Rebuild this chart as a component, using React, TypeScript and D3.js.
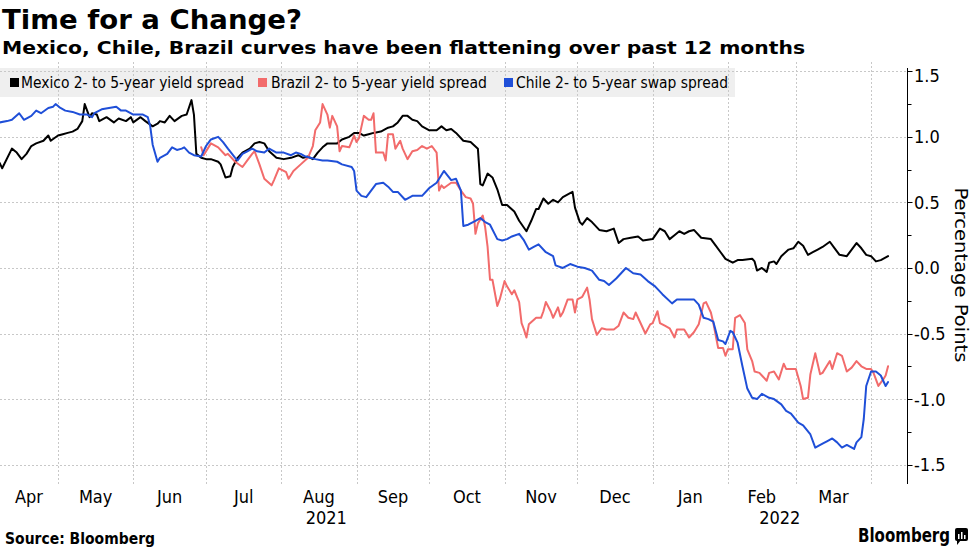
import React, { useEffect } from "react";
import * as d3 from "d3";

// ---------- text ----------
const titleText = "Time for a Change?";
const subtitleText = "Mexico, Chile, Brazil curves have been flattening over past 12 months";
const sourceText = "Source: Bloomberg";
const brandText = "Bloomberg";
const yAxisTitle = "Percentage Points";

const seriesNames = [
  "Mexico 2- to 5-year yield spread",
  "Brazil 2- to 5-year yield spread",
  "Chile 2- to 5-year swap spread",
];
const seriesColors = ["#000000", "#f26b6b", "#1f4fd8"];

const monthLabels = ["Apr", "May", "Jun", "Jul", "Aug", "Sep", "Oct", "Nov", "Dec", "Jan", "Feb", "Mar"];
const yearLabels = ["2021", "2022"];
const yTickValues = [1.5, 1.0, 0.5, 0.0, -0.5, -1.0, -1.5];
const yTickLabels = ["1.5", "1.0", "0.5", "0.0", "-0.5", "-1.0", "-1.5"];

// ---------- data: [days since 2021-04-01, percentage points] ----------
const mexico: [number, number][] = [
  [6, 0.8], [7, 0.76], [11, 0.91], [13, 0.88], [15, 0.83], [17, 0.87], [19, 0.93], [21, 0.95], [24, 0.97], [26, 1.01],
  [27, 0.97], [30, 1.01], [32, 1.02], [34, 1.03], [36, 1.04], [38, 1.06], [40, 1.12], [41, 1.25], [42, 1.2], [43, 1.15],
  [44, 1.18], [46, 1.17], [47, 1.12], [50, 1.15], [53, 1.11], [55, 1.14], [58, 1.12], [60, 1.15], [61, 1.11], [64, 1.15],
  [66, 1.12], [69, 1.08], [71, 1.1], [72, 1.12], [74, 1.11], [76, 1.16], [78, 1.12], [81, 1.16], [83, 1.17], [85, 1.28],
  [86, 1.17], [87, 0.87], [89, 0.84], [91, 0.83], [93, 0.83], [96, 0.81], [97, 0.79], [99, 0.69], [101, 0.7], [102, 0.77],
  [104, 0.84], [106, 0.88], [109, 0.91], [111, 0.95], [113, 0.96], [115, 0.95], [117, 0.89], [120, 0.84], [123, 0.83], [126, 0.84],
  [129, 0.86], [131, 0.84], [133, 0.85], [135, 0.83], [137, 0.88], [139, 0.92], [141, 0.95], [143, 0.95], [145, 0.95], [147, 0.98],
  [150, 1.0], [152, 1.03], [154, 1.03], [156, 1.01], [158, 1.02], [160, 1.03], [163, 1.04], [166, 1.07], [168, 1.08], [170, 1.11],
  [172, 1.16], [174, 1.16], [176, 1.13], [178, 1.12], [180, 1.08], [183, 1.05], [186, 1.05], [188, 1.08], [190, 1.05], [192, 1.06],
  [194, 1.03], [197, 0.97], [200, 0.96], [203, 0.91], [204, 0.64], [205, 0.63], [207, 0.72], [209, 0.69], [211, 0.6], [213, 0.48],
  [215, 0.48], [218, 0.43], [220, 0.36], [223, 0.28], [225, 0.36], [227, 0.45], [228, 0.45], [230, 0.53], [232, 0.49], [234, 0.52],
  [236, 0.5], [238, 0.54], [241, 0.57], [242, 0.58], [243, 0.46], [245, 0.35], [246, 0.33], [248, 0.38], [250, 0.35], [253, 0.29],
  [256, 0.28], [259, 0.3], [261, 0.19], [263, 0.22], [266, 0.23], [269, 0.24], [271, 0.21], [275, 0.22], [278, 0.3], [280, 0.28],
  [282, 0.22], [284, 0.25], [286, 0.28], [288, 0.26], [290, 0.28], [292, 0.29], [295, 0.23], [299, 0.22], [301, 0.17], [303, 0.12],
  [305, 0.07], [308, 0.04], [310, 0.06], [312, 0.06], [316, 0.07], [317, 0.05], [318, -0.02], [320, 0.0], [322, -0.03], [323, 0.04],
  [325, 0.05], [326, 0.03], [328, 0.09], [331, 0.14], [333, 0.15], [335, 0.2], [337, 0.17], [339, 0.1], [341, 0.12], [343, 0.14],
  [345, 0.16], [348, 0.2], [350, 0.15], [352, 0.1], [355, 0.09], [357, 0.14], [359, 0.19], [361, 0.15], [363, 0.1], [365, 0.09],
  [367, 0.05], [369, 0.06], [372, 0.09],
];

const brazil: [number, number][] = [
  [89, 0.92], [90, 0.86], [93, 0.95], [96, 0.92], [99, 0.86], [100, 0.87], [103, 0.81], [106, 0.77], [108, 0.82], [110, 0.87],
  [111, 0.89], [113, 0.79], [115, 0.68], [118, 0.63], [119, 0.67], [121, 0.76], [124, 0.73], [125, 0.68], [127, 0.74], [130, 0.79],
  [133, 0.84], [135, 0.93], [136, 1.05], [138, 1.11], [139, 1.25], [141, 1.17], [142, 1.07], [143, 1.16], [145, 1.08], [146, 0.89],
  [147, 0.93], [150, 0.92], [152, 1.01], [153, 0.96], [154, 0.99], [156, 1.16], [158, 1.13], [159, 1.13], [160, 1.18], [161, 0.88],
  [164, 0.88], [165, 0.82], [166, 1.02], [168, 1.02], [169, 0.91], [171, 0.97], [172, 0.91], [174, 0.83], [176, 0.89], [178, 0.9],
  [180, 0.93], [182, 0.91], [184, 0.93], [186, 0.88], [187, 0.59], [188, 0.63], [189, 0.61], [192, 0.65], [194, 0.65], [196, 0.59],
  [198, 0.54], [200, 0.53], [201, 0.49], [202, 0.26], [203, 0.34], [205, 0.4], [206, 0.31], [207, 0.16], [208, -0.09], [209, -0.09],
  [211, -0.29], [212, -0.24], [214, -0.1], [215, -0.14], [217, -0.2], [218, -0.17], [220, -0.26], [221, -0.42], [222, -0.47], [223, -0.53],
  [224, -0.43], [227, -0.38], [229, -0.38], [230, -0.33], [231, -0.26], [233, -0.33], [234, -0.38], [236, -0.3], [237, -0.37], [238, -0.34],
  [240, -0.24], [242, -0.24], [243, -0.34], [244, -0.24], [246, -0.22], [248, -0.15], [249, -0.24], [250, -0.39], [252, -0.51], [254, -0.46],
  [256, -0.47], [259, -0.47], [261, -0.44], [263, -0.34], [265, -0.38], [267, -0.39], [268, -0.34], [270, -0.42], [272, -0.5], [274, -0.43],
  [275, -0.42], [277, -0.33], [278, -0.42], [280, -0.44], [282, -0.46], [284, -0.53], [285, -0.47], [288, -0.47], [290, -0.53], [292, -0.49],
  [294, -0.43], [296, -0.27], [297, -0.26], [299, -0.34], [300, -0.42], [302, -0.61], [304, -0.61], [305, -0.67], [306, -0.62], [308, -0.62],
  [309, -0.38], [311, -0.36], [313, -0.42], [314, -0.62], [316, -0.71], [317, -0.79], [319, -0.8], [320, -0.82], [322, -0.86], [323, -0.8],
  [325, -0.79], [327, -0.85], [329, -0.73], [330, -0.77], [332, -0.77], [334, -0.77], [336, -0.9], [337, -1.0], [339, -0.99], [340, -0.81],
  [342, -0.65], [344, -0.81], [345, -0.8], [348, -0.71], [349, -0.77], [351, -0.65], [353, -0.67], [355, -0.79], [357, -0.76], [359, -0.71],
  [361, -0.75], [363, -0.77], [365, -0.77], [366, -0.8], [368, -0.9], [370, -0.85], [371, -0.82], [372, -0.75],
];

const chile: [number, number][] = [
  [6, 1.11], [9, 1.12], [11, 1.13], [14, 1.18], [16, 1.13], [19, 1.16], [21, 1.2], [23, 1.18], [26, 1.22], [28, 1.23],
  [29, 1.25], [31, 1.22], [33, 1.2], [36, 1.19], [39, 1.17], [42, 1.17], [44, 1.15], [45, 1.18], [48, 1.21], [51, 1.22],
  [54, 1.23], [56, 1.2], [58, 1.2], [61, 1.17], [63, 1.17], [65, 1.17], [67, 1.15], [68, 1.08], [69, 0.94], [71, 0.81],
  [72, 0.84], [75, 0.87], [77, 0.92], [79, 0.9], [81, 0.91], [82, 0.92], [84, 0.88], [86, 0.86], [89, 0.85], [91, 0.93],
  [93, 0.98], [96, 1.0], [98, 0.96], [100, 0.91], [103, 0.84], [104, 0.82], [106, 0.87], [108, 0.89], [110, 0.91], [112, 0.89],
  [115, 0.88], [117, 0.91], [120, 0.88], [123, 0.88], [126, 0.86], [128, 0.88], [130, 0.87], [132, 0.85], [134, 0.84], [136, 0.83],
  [139, 0.82], [141, 0.82], [145, 0.81], [147, 0.79], [151, 0.77], [152, 0.74], [153, 0.59], [155, 0.55], [157, 0.54], [159, 0.59],
  [161, 0.64], [164, 0.65], [166, 0.62], [168, 0.58], [170, 0.58], [173, 0.52], [176, 0.55], [180, 0.55], [183, 0.61], [186, 0.65],
  [189, 0.74], [192, 0.67], [194, 0.68], [196, 0.59], [197, 0.32], [199, 0.33], [202, 0.36], [204, 0.38], [206, 0.35], [208, 0.33],
  [211, 0.22], [213, 0.21], [215, 0.22], [217, 0.24], [220, 0.26], [222, 0.21], [224, 0.14], [226, 0.16], [228, 0.18], [231, 0.12],
  [234, 0.09], [235, 0.02], [238, 0.0], [241, 0.03], [244, 0.01], [247, 0.0], [250, -0.02], [253, -0.09], [255, -0.1], [257, -0.13],
  [260, -0.08], [262, -0.04], [264, 0.0], [267, -0.04], [270, -0.05], [273, -0.1], [276, -0.14], [279, -0.2], [283, -0.27], [285, -0.24],
  [289, -0.24], [292, -0.24], [294, -0.28], [296, -0.38], [298, -0.39], [300, -0.41], [302, -0.55], [304, -0.56], [305, -0.58], [307, -0.48],
  [308, -0.49], [310, -0.57], [312, -0.75], [314, -0.92], [316, -0.99], [318, -1.0], [320, -0.96], [323, -0.99], [325, -1.0], [328, -1.04],
  [330, -1.09], [332, -1.11], [335, -1.18], [337, -1.2], [340, -1.27], [342, -1.37], [345, -1.34], [347, -1.32], [349, -1.3], [351, -1.33],
  [353, -1.37], [355, -1.35], [358, -1.38], [359, -1.33], [361, -1.29], [362, -1.15], [363, -0.9], [365, -0.79], [367, -0.79], [369, -0.82],
  [371, -0.9], [372, -0.87],
];

const seriesData = [mexico, brazil, chile];

// ---------- layout ----------
const W = 977;
const H = 549;
const PLOT_LEFT = 0;
const AXIS_X = 907.5;
const PLOT_TOP = 68;
const PLOT_BOTTOM = 484;
const FONT = "'DejaVu Sans Condensed', 'DejaVu Sans', sans-serif";

const BASE = Date.UTC(2021, 3, 1);
const DAY = 86400000;
const dayToDate = (d: number) => new Date(BASE + d * DAY);

export default function App() {
  useEffect(() => {
    document.body.style.margin = "0";
  }, []);

  const x = d3.scaleUtc().domain([dayToDate(6.1), dayToDate(379.8)]).range([PLOT_LEFT, AXIS_X - 0.5]);
  const y = d3.scaleLinear().domain([-1.64, 1.525]).range([PLOT_BOTTOM - 1, PLOT_TOP]);

  const line = d3
    .line<[number, number]>()
    .x((p) => x(dayToDate(p[0])))
    .y((p) => y(p[1]));

  const [x0, x1] = x.domain();
  const monthStarts = d3.utcMonth.range(d3.utcMonth.ceil(x0), x1);
  // month label positions: center of visible part of each month
  const allMonths = d3.utcMonth.range(d3.utcMonth.floor(x0), x1);
  const monthCenters = allMonths.slice(0, monthLabels.length).map((m) => {
    const a = m < x0 ? x0 : m;
    const next = d3.utcMonth.offset(m, 1);
    const b = next > x1 ? x1 : next;
    return (x(a) + x(b)) / 2;
  });
  const yearBoundary = new Date(Date.UTC(2022, 0, 1));
  const yearCenters = [(x(x0) + x(yearBoundary)) / 2, (x(yearBoundary) + x(x1)) / 2];

  const minorTicks = d3.range(-1.5, 1.5001, 0.25);

  const legendItems = [
    { sq: 10, tx: 21, len: 223 },
    { sq: 258, tx: 271, len: 216 },
    { sq: 504, tx: 516, len: 212 },
  ];

  return (
    <svg
      width={W}
      height={H}
      viewBox={`0 0 ${W} ${H}`}
      style={{ position: "absolute", left: 0, top: 0, display: "block", background: "#fff" }}
      fontFamily={FONT}
    >
      {/* title */}
      <text x={2} y={29} fontSize={26} fontWeight="bold" fill="#000" textLength={300} lengthAdjust="spacingAndGlyphs">
        {titleText}
      </text>
      <text x={2} y={54} fontSize={18} fontWeight="bold" fill="#000" textLength={803} lengthAdjust="spacingAndGlyphs">
        {subtitleText}
      </text>

      {/* legend background */}
      <rect x={0} y={68} width={735} height={29} fill="#efefef" />

      {/* grid */}
      <g stroke="#c8c8c8" strokeWidth={1} strokeDasharray="2,2">
        {yTickValues.map((v) => (
          <line key={"h" + v} x1={PLOT_LEFT} x2={AXIS_X} y1={Math.round(y(v)) + 0.5} y2={Math.round(y(v)) + 0.5} />
        ))}
        {monthStarts.map((m) => (
          <line key={"v" + m.getTime()} x1={Math.round(x(m)) + 0.5} x2={Math.round(x(m)) + 0.5} y1={62} y2={PLOT_BOTTOM} />
        ))}
      </g>

      {/* legend */}
      {seriesNames.map((name, i) => (
        <g key={name}>
          <rect x={legendItems[i].sq} y={78} width={9} height={9} fill={seriesColors[i]} />
          <text
            x={legendItems[i].tx}
            y={88}
            fontSize={16}
            fill="#000"
            textLength={legendItems[i].len}
            lengthAdjust="spacingAndGlyphs"
          >
            {name}
          </text>
        </g>
      ))}

      {/* series */}
      {seriesData.map((data, i) => (
        <path
          key={seriesNames[i]}
          d={line(data) || ""}
          fill="none"
          stroke={seriesColors[i]}
          strokeWidth={2}
          strokeLinejoin="round"
          strokeLinecap="round"
        />
      ))}

      {/* right axis */}
      <line x1={AXIS_X} x2={AXIS_X} y1={PLOT_TOP} y2={PLOT_BOTTOM} stroke="#000" strokeWidth={1} />
      {minorTicks.map((v) => {
        const major = Math.abs(v * 2 - Math.round(v * 2)) < 1e-6;
        const yy = Math.round(y(v)) + 0.5;
        return <line key={"t" + v} x1={AXIS_X} x2={AXIS_X + (major ? 5 : 4)} y1={yy} y2={yy} stroke="#000" strokeWidth={1} />;
      })}
      {yTickValues.map((v, i) => (
        <text key={"l" + v} x={914} y={y(v) + (i === 0 ? 4 : 0)} dy="0.36em" fontSize={18} fill="#000">
          {yTickLabels[i]}
        </text>
      ))}
      <text
        transform={`translate(955, 275) rotate(90)`}
        textAnchor="middle"
        fontSize={18}
        fill="#000"
        textLength={175}
        lengthAdjust="spacingAndGlyphs"
      >
        {yAxisTitle}
      </text>

      {/* x labels */}
      {monthLabels.map((m, i) => (
        <text key={"m" + m + i} x={monthCenters[i]} y={503} textAnchor="middle" fontSize={18} fill="#000">
          {m}
        </text>
      ))}
      {yearLabels.map((yl, i) => (
        <text key={yl} x={yearCenters[i]} y={524} textAnchor="middle" fontSize={18} fill="#000">
          {yl}
        </text>
      ))}

      {/* footer */}
      <text x={5} y={544} fontSize={15} fontWeight="bold" fill="#000" textLength={150} lengthAdjust="spacingAndGlyphs">
        {sourceText}
      </text>
      <text x={858} y={542} fontSize={19} fontWeight="bold" fill="#000" textLength={92} lengthAdjust="spacingAndGlyphs">
        {brandText}
      </text>
      <g>
        <rect x={955} y={528} width={13} height={13} rx={2} fill="#000" />
        <path d="M957,540 L957,545 L961,540 Z" fill="#000" />
        <rect x={958} y={534} width={1.5} height={5} fill="#fff" />
        <rect x={961} y={532} width={1.5} height={7} fill="#fff" />
        <rect x={964} y={535} width={1.5} height={4} fill="#fff" />
      </g>
    </svg>
  );
}
